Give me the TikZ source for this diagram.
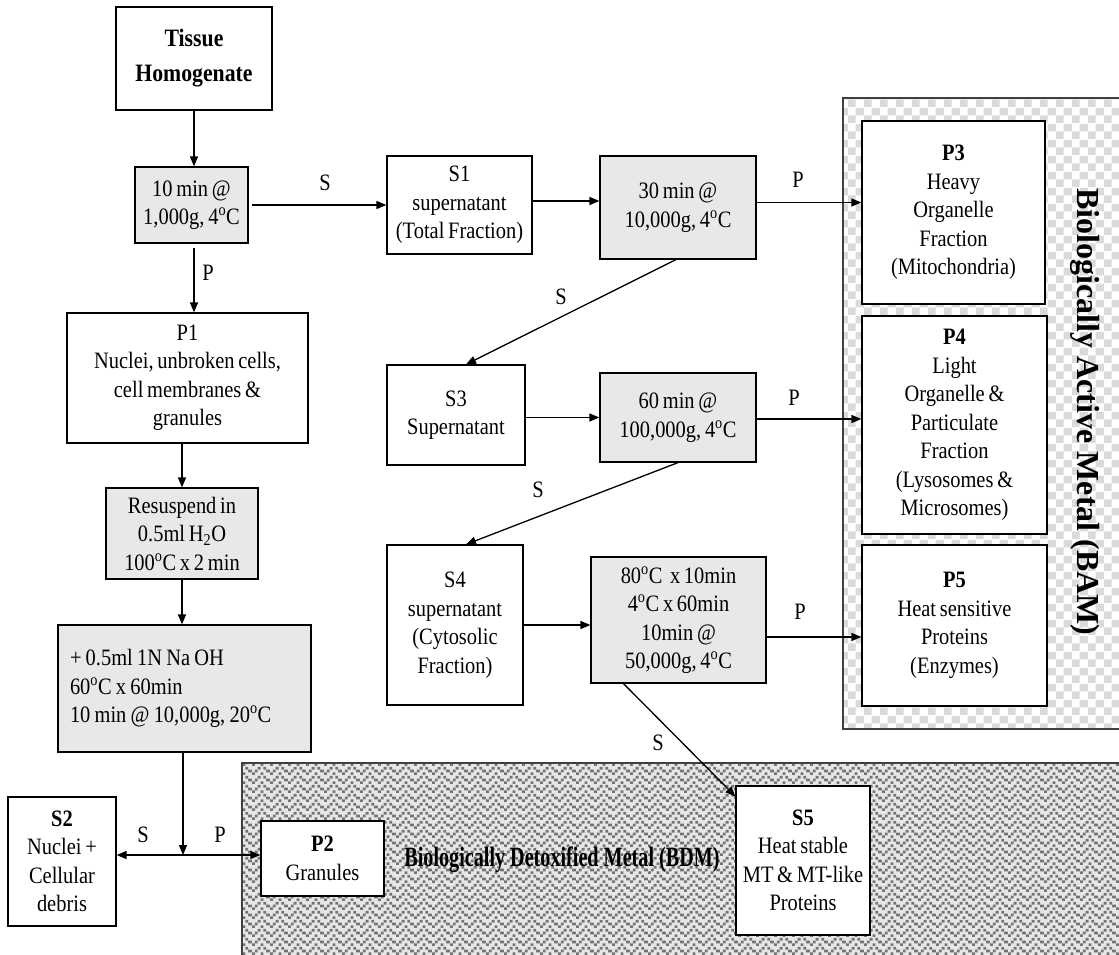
\documentclass[tikz,border=0pt]{standalone}
\usepackage{fontspec}
\setmainfont{Liberation Serif}[FakeStretch=0.87]
\newfontfamily\bamfont{Liberation Serif}
\newfontfamily\bdmfont{Liberation Serif}[FakeStretch=0.72]
\usetikzlibrary{arrows.meta,patterns.meta}
\definecolor{boxgray}{HTML}{E8E8E8}
\definecolor{bamgray}{HTML}{DADADA}
\definecolor{bdmback}{HTML}{E6E6E6}
\definecolor{bdmgray}{HTML}{747474}
\definecolor{edgegray}{HTML}{404040}
\newcommand{\dg}{\textsuperscript{o}}
\newcommand{\fs}{\fontsize{23.5}{28.5}\selectfont\spaceskip=0.16em plus 0.04em minus 0.02em\relax}

\tikzdeclarepattern{
  name=bamcheck,
  type=colored,
  bounding box={(0pt,0pt) and (16pt,16pt)},
  tile size={(16pt,16pt)},
  code={
    \fill[bamgray] (0pt,0pt) rectangle (8pt,8pt);
    \fill[bamgray] (8pt,8pt) rectangle (16pt,16pt);
  }
}
\tikzdeclarepattern{
  name=bdmzig,
  type=colored,
  bounding box={(0pt,0pt) and (18pt,9pt)},
  tile size={(18pt,9pt)},
  code={
    \fill[bdmgray] (0pt,0pt) rectangle (3pt,3pt);
    \fill[bdmgray] (9pt,0pt) rectangle (12pt,3pt);
    \fill[bdmgray] (3pt,3pt) rectangle (6pt,6pt);
    \fill[bdmgray] (15pt,3pt) rectangle (18pt,6pt);
    \fill[bdmgray] (6pt,6pt) rectangle (9pt,9pt);
    \fill[bdmgray] (12pt,6pt) rectangle (15pt,9pt);
  }
}

\tikzset{
  box/.style={draw, line width=1.2pt, inner sep=0pt, align=center, font=\fs},
  greybox/.style={box, fill=boxgray},
  wbox/.style={box, fill=white},
  arr/.style={line width=1.3pt, -{Triangle[length=10pt,width=8pt]}},
  lbl/.style={inner sep=0pt, font=\fs},
  region/.style={draw=edgegray, line width=1.5pt}
}

\begin{document}
\begin{tikzpicture}[x=1pt,y=-1pt]
\useasboundingbox (0,0) rectangle (1119,955);

% background regions
\fill[white] (843,98) rectangle (1125,729);
\fill[pattern=bamcheck] (843,98) rectangle (1125,729);
\draw[region] (843,98) rectangle (1125,729);
\fill[bdmback] (242,763) rectangle (1125,961);
\fill[pattern=bdmzig] (242,763) rectangle (1125,961);
\draw[region] (242,763) rectangle (1125,961);

% region labels
\node[rotate=-90, inner sep=0pt] (bamlabel) at (1085,412)
  {\bamfont\bfseries\fontsize{32}{36}\selectfont Biologically Active Metal (BAM)};
\node[inner sep=0pt] (bdmlabel) at (562,860)
  {\bdmfont\bfseries\fontsize{28}{30}\selectfont Biologically Detoxified Metal (BDM)};

% left column
\node[box, minimum width=156pt, minimum height=103pt, font=\fontsize{25}{35}\selectfont\bfseries] (th) at (194,58.5)
  {Tissue\\Homogenate};
\node[greybox, minimum width=113pt, minimum height=76pt] (c1) at (191.5,205)
  {10 min @\\1,000g, 4\dg C};
\node[box, minimum width=241pt, minimum height=130pt] (p1) at (187.5,378)
  {P1\\Nuclei, unbroken cells,\\cell membranes \&\\granules};
\node[greybox, minimum width=152pt, minimum height=91pt] (c5) at (182,533.5)
  {Resuspend in\\0.5ml H\textsubscript{2}O\\100\dg C x 2 min};
\node[greybox, minimum width=253pt, minimum height=127pt, align=left, text width=229pt] (c6) at (184.5,688.5)
  {\spaceskip=0.18em plus 0.04em minus 0.02em\relax
   + 0.5ml 1N Na OH\\60\dg C x 60min\\10 min @ 10,000g, 20\dg C};
\node[box, minimum width=108pt, minimum height=129pt] (s2) at (62,861.5)
  {\textbf{S2}\\Nuclei +\\Cellular\\debris};
\node[wbox, minimum width=123pt, minimum height=75pt] (p2) at (322.5,858.5)
  {\textbf{P2}\\Granules};
\coordinate (j) at (183,855);

% middle columns
\node[box, minimum width=145pt, minimum height=98pt] (s1) at (459.5,205)
  {S1\\supernatant\\(Total Fraction)};
\node[greybox, minimum width=156pt, minimum height=103pt] (c2) at (678,207.5)
  {30 min @\\10,000g, 4\dg C};
\node[box, minimum width=138pt, minimum height=100pt] (s3) at (456,415)
  {S3\\Supernatant};
\node[greybox, minimum width=156pt, minimum height=89pt] (c3) at (678,417.5)
  {60 min @\\100,000g, 4\dg C};
\node[box, minimum width=136pt, minimum height=160pt] (s4) at (455,625)
  {S4\\supernatant\\(Cytosolic\\Fraction)};
\node[greybox, minimum width=175pt, minimum height=126pt] (c4) at (678.5,620)
  {80\dg C\ \ x 10min\\4\dg C x 60min\\10min @\\50,000g, 4\dg C};

% right column
\node[wbox, minimum width=183pt, minimum height=183pt] (p3) at (953.5,212.5)
  {\textbf{P3}\\Heavy\\Organelle\\Fraction\\(Mitochondria)};
\node[wbox, minimum width=185pt, minimum height=218pt] (p4) at (954.5,425)
  {\textbf{P4}\\Light\\Organelle \&\\Particulate\\Fraction\\(Lysosomes \&\\Microsomes)};
\node[wbox, minimum width=185pt, minimum height=161pt] (p5) at (954.5,625.5)
  {\textbf{P5}\\Heat sensitive\\Proteins\\(Enzymes)};
\node[wbox, minimum width=134pt, minimum height=149pt] (s5) at (803,860.5)
  {\textbf{S5}\\Heat stable\\MT \& MT-like\\Proteins};

% connectors
\draw[arr] (th.south) -- (th.south |- c1.north);
\draw[arr] ([xshift=3pt]c1.east) -- (s1.west);
\draw[arr] ([yshift=-4pt]c1.south -| th.south) -- (th.south |- p1.north);
\draw[arr] (c5.north |- p1.south) -- (c5.north);
\draw[arr] (c5.south) -- (c5.south |- c6.north);
\draw[arr] (c6.south -| j) -- (j);
\draw[arr] (j) -- (j -| s2.east);
\draw[arr] (j) -- (j -| p2.west);

\draw[arr] ([yshift=4pt]s1.east) -- ([yshift=4pt]s1.east -| c2.west);
\draw[arr] ([yshift=5pt]c2.east) -- ([yshift=5pt]c2.east -| p3.west);
\draw[arr] ([xshift=-2pt]c2.south) -- ([xshift=10pt]s3.north);
\draw[arr] (s3.east |- c3.west) -- (c3.west);
\draw[arr] ([yshift=-1.5pt]c3.east) -- ([yshift=-1.5pt]c3.east -| p4.west);
\draw[arr] (c3.south) -- ([xshift=11pt]s4.north);
\draw[arr] (s4.east) -- (s4.east -| c4.west);
\draw[arr] ([yshift=-17pt]c4.east) -- ([yshift=-17pt]c4.east -| p5.west);
\draw[arr] ([xshift=-55pt]c4.south) -- ([yshift=-11pt]s5.north west);

% connector labels
\node[lbl] (lS1) at (325,183) {S};
\node[lbl] (lP1) at (208,273) {P};
\node[lbl] (lP3) at (798,180) {P};
\node[lbl] (lS3) at (561,297) {S};
\node[lbl] (lP4) at (794,398) {P};
\node[lbl] (lS4) at (538,490) {S};
\node[lbl] (lP5) at (800,612) {P};
\node[lbl] (lS5) at (658,743) {S};
\node[lbl] (lS2) at (143,835) {S};
\node[lbl] (lP2) at (220,835) {P};
\end{tikzpicture}
\end{document}
